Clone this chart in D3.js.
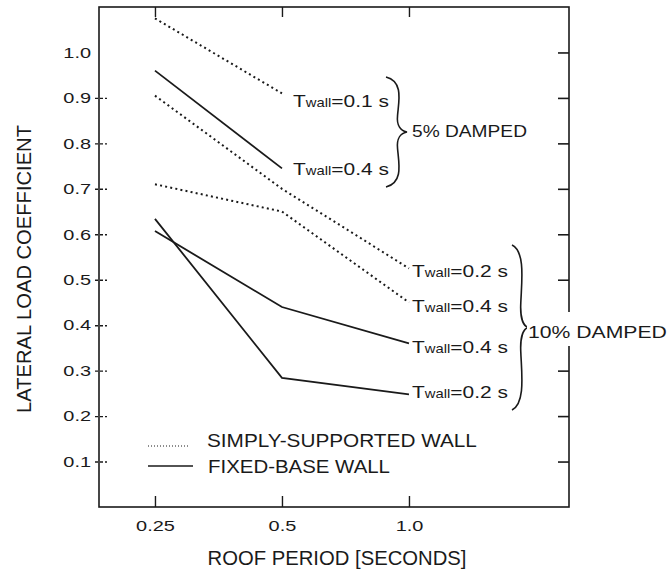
<!DOCTYPE html>
<html>
<head>
<meta charset="utf-8">
<script src="https://cdn.jsdelivr.net/npm/d3@7"></script>
<style>
  body { margin: 0; background: #fff; }
  svg text { font-family: "Liberation Sans", Arial, Helvetica, sans-serif; fill: #1a1a1a; }
</style>
</head>
<body>
<div id="chart"></div>
<script>
// roof period (s) on the x axis
const periods = [0.25, 0.5, 1.0];
// 5% damped
const ssWall5Pct01 = [1.075, 0.91];
const fbWall5Pct04 = [0.96, 0.745];
// 10% damped
const ssWall10Pct02 = [0.905, 0.70, 0.525];
const ssWall10Pct04 = [0.71, 0.65, 0.45];
const fbWall10Pct04 = [0.607, 0.44, 0.36];
const fbWall10Pct02 = [0.634, 0.284, 0.248];

const yTicks = [0.1, 0.2, 0.3, 0.4, 0.5, 0.6, 0.7, 0.8, 0.9, 1.0];
const xTicks = [0.25, 0.5, 1.0];
const xTickLabels = ["0.25", "0.5", "1.0"];

const W = 670, H = 576;
const plotL = 99, plotR = 569, plotT = 7, plotB = 507;
const ink = "#1a1a1a";

const svg = d3.select("#chart").append("svg")
    .attr("width", W).attr("height", H);

const x = d3.scaleLog().domain([0.1842, 2.395]).range([plotL, plotR]);
const y = d3.scaleLinear().domain([0, 1.1]).range([plotB, plotT]);

// stretched text (scan is wider than the font)
function label(parent, txt, px, py, size, width, anchor) {
    const t = parent.append("text")
        .attr("font-size", size + "px")
        .attr("text-anchor", anchor || "start");
    if (typeof txt === "function") txt(t); else t.text(txt);
    const w = t.node().getComputedTextLength();
    const s = width ? width / w : 1;
    t.attr("transform", "translate(" + px + "," + py + ") scale(" + s + ",1)");
    return t;
}

// frame
svg.append("rect")
    .attr("x", plotL).attr("y", plotT)
    .attr("width", plotR - plotL).attr("height", plotB - plotT)
    .attr("fill", "none").attr("stroke", ink).attr("stroke-width", 1.6);

// left tick marks (cross the axis, broken look)
const gLT = svg.append("g").attr("transform", "translate(95,0)")
    .call(d3.axisLeft(y).tickValues(yTicks.filter(v => v < 1)).tickSize(-12).tickFormat(""));
gLT.select(".domain").remove();
gLT.selectAll(".tick line").attr("stroke", ink).attr("stroke-width", 1.4).attr("stroke-dasharray", "3,2");

// left tick labels
const gL = svg.append("g").attr("transform", "translate(" + plotL + ",0)")
    .call(d3.axisLeft(y).tickValues(yTicks).tickSize(0).tickPadding(8).tickFormat(d3.format(".1f")));
gL.select(".domain").remove();
gL.selectAll(".tick text")
    .attr("font-size", "15px").attr("fill", ink)
    .attr("x", -8 / 1.33).attr("transform", "scale(1.33,1)");

// right tick marks
const gR = svg.append("g").attr("transform", "translate(" + plotR + ",0)")
    .call(d3.axisRight(y).tickValues(yTicks).tickSize(-11).tickFormat(""));
gR.select(".domain").remove();
gR.selectAll(".tick line").attr("stroke", ink).attr("stroke-width", 1.6);

// bottom axis
const gB = svg.append("g").attr("transform", "translate(0," + plotB + ")")
    .call(d3.axisBottom(x).tickValues(xTicks).tickSize(-11).tickPadding(24)
        .tickFormat((d, i) => xTickLabels[i]));
gB.select(".domain").remove();
gB.selectAll(".tick line").attr("stroke", ink).attr("stroke-width", 1.4);
gB.selectAll(".tick text")
    .attr("font-size", "15px").attr("fill", ink)
    .attr("y", 13).attr("transform", "scale(1.33,1)");

// top ticks
const gT = svg.append("g").attr("transform", "translate(0," + plotT + ")")
    .call(d3.axisTop(x).tickValues(xTicks).tickSize(-10).tickFormat(""));
gT.select(".domain").remove();
gT.selectAll(".tick line").attr("stroke", ink).attr("stroke-width", 1.4);

// curves
const series = [
    { vals: ssWall5Pct01, dotted: true },
    { vals: fbWall5Pct04, dotted: false },
    { vals: ssWall10Pct02, dotted: true },
    { vals: ssWall10Pct04, dotted: true },
    { vals: fbWall10Pct04, dotted: false },
    { vals: fbWall10Pct02, dotted: false }
];
const line = d3.line().x(d => x(d[0])).y(d => y(d[1]));
series.forEach(s => {
    svg.append("path")
        .datum(s.vals.map((v, i) => [periods[i], v]))
        .attr("d", line)
        .attr("fill", "none")
        .attr("stroke", ink)
        .attr("stroke-width", s.dotted ? 2 : 1.8)
        .attr("stroke-dasharray", s.dotted ? "2,3.2" : null);
});

// Twall labels
function twall(val, px, py) {
    label(svg, t => {
        t.append("tspan").text("T");
        t.append("tspan").attr("font-size", "12px").text("wall");
        t.append("tspan").text("=" + val + " s");
    }, px, py, 17, 96);
}
twall("0.1", 293, 107);
twall("0.4", 293, 175);
twall("0.2", 412, 277);
twall("0.4", 412, 312);
twall("0.4", 412, 353);
twall("0.2", 412, 398);

// braces
function brace(bx, y1, y2, w) {
    const h = (y2 - y1) / 2, ym = (y1 + y2) / 2;
    const p = d3.path();
    p.moveTo(bx, y1);
    p.bezierCurveTo(bx + 0.85 * w, y1 + 0.08 * h, bx + 0.6 * w, y1 + 0.45 * h, bx + 0.55 * w, y1 + 0.7 * h);
    p.bezierCurveTo(bx + 0.5 * w, ym - 0.12 * h, bx + 0.7 * w, ym - 0.02 * h, bx + w, ym);
    p.bezierCurveTo(bx + 0.7 * w, ym + 0.02 * h, bx + 0.5 * w, ym + 0.12 * h, bx + 0.55 * w, y2 - 0.7 * h);
    p.bezierCurveTo(bx + 0.6 * w, y2 - 0.45 * h, bx + 0.85 * w, y2 - 0.08 * h, bx, y2);
    svg.append("path").attr("d", p.toString())
        .attr("fill", "none").attr("stroke", ink).attr("stroke-width", 1.6);
}
brace(386, 77, 187, 21);
brace(512, 245, 410, 16);

label(svg, "5% DAMPED", 412, 137, 17, 115);
svg.append("rect").attr("x", 527).attr("y", 312).attr("width", 143).attr("height", 34).attr("fill", "#fff");
label(svg, "10% DAMPED", 528, 338, 17, 139);

// legend
svg.append("line").attr("x1", 148).attr("x2", 190).attr("y1", 446).attr("y2", 446)
    .attr("stroke", ink).attr("stroke-width", 1).attr("stroke-dasharray", "1,2");
svg.append("line").attr("x1", 148).attr("x2", 193).attr("y1", 466).attr("y2", 466)
    .attr("stroke", ink).attr("stroke-width", 1.6);
label(svg, "SIMPLY-SUPPORTED WALL", 207, 447, 18, 270);
label(svg, "FIXED-BASE WALL", 208, 473, 18, 182);

// axis titles
label(svg, "ROOF PERIOD [SECONDS]", 337, 565, 20, 259, "middle");
svg.append("text")
    .attr("transform", "translate(31,269) rotate(-90)")
    .attr("text-anchor", "middle")
    .attr("font-size", "20px")
    .attr("textLength", 288)
    .attr("lengthAdjust", "spacingAndGlyphs")
    .text("LATERAL LOAD COEFFICIENT");
</script>
</body>
</html>
